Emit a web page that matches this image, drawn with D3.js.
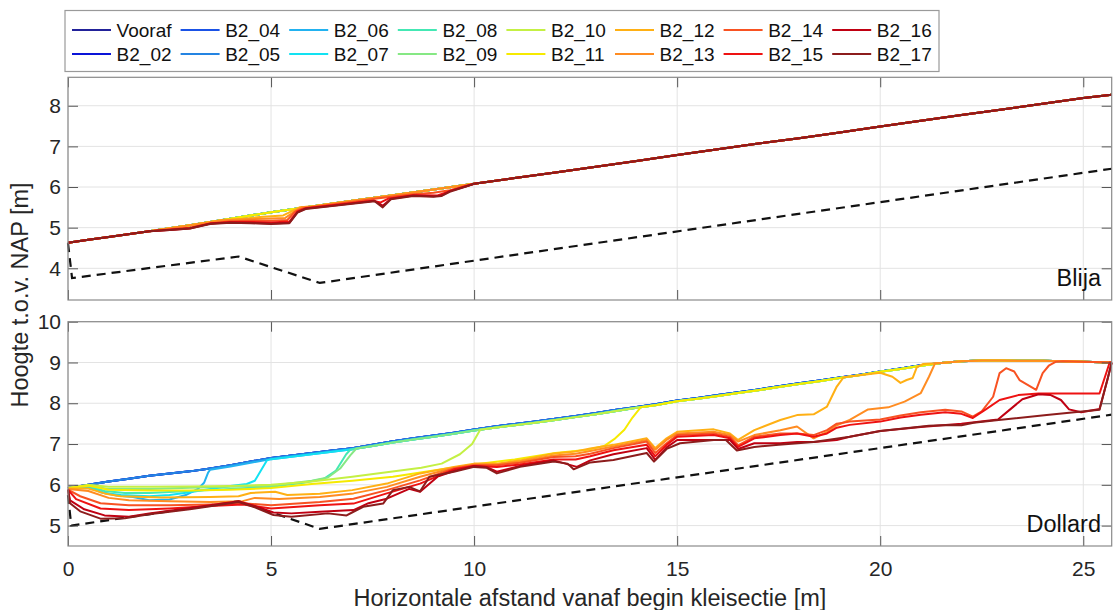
<!DOCTYPE html>
<html>
<head>
<meta charset="utf-8">
<script src="https://cdn.jsdelivr.net/npm/d3@7"></script>
<style>
  body { margin: 0; background: #fff; }
  svg { font-family: "Liberation Sans", Arial, Helvetica, sans-serif; }
</style>
</head>
<body>
<svg id="chart" width="1116" height="610"></svg>
<script>
// ---- data ----
const seriesNames = ["Vooraf", "B2_02", "B2_04", "B2_05", "B2_06", "B2_07", "B2_08", "B2_09",
  "B2_10", "B2_11", "B2_12", "B2_13", "B2_14", "B2_15", "B2_16", "B2_17"];
const seriesColors = ["#22229a", "#0a14d8", "#1a52e6", "#2484e2", "#22b2f0", "#12e2f2", "#44e8b4", "#86e884",
  "#c4f044", "#f6ea00", "#ffb014", "#ff8c22", "#f85222", "#ee1212", "#c00012", "#8c1c1c"];

const xTicks = [0, 5, 10, 15, 20, 25];
const blijaTicks = [4, 5, 6, 7, 8];
const dollardTicks = [5, 6, 7, 8, 9, 10];

// Blija: measured surface, all series coincide except where noted
const blijaBase = [[0,4.63],[0.5,4.7],[1,4.77],[2,4.91],[3,5.06],[4,5.22],[5,5.38],[6,5.52],[7,5.66],[8,5.8],
  [9,5.94],[10,6.08],[11,6.22],[12,6.36],[13,6.5],[14,6.64],[15,6.79],[16,6.93],[17,7.07],[18,7.2],[19,7.34],
  [20,7.49],[21,7.63],[22,7.77],[23,7.91],[24,8.05],[25,8.19],[25.7,8.27]];
const blijaB2_12 = [[3.8,5.19],[4.3,5.22],[4.8,5.27],[5.3,5.3],[5.5,5.4],[5.7,5.5]];
const blijaB2_13 = [[3.8,5.18],[4.3,5.2],[4.8,5.22],[5.35,5.24],[5.55,5.38],[5.75,5.5]];
const blijaB2_14 = [[2.5,4.96],[3,5],[3.5,5.1],[4,5.16],[4.5,5.17],[5,5.17],[5.4,5.19],[5.6,5.4],[5.8,5.48],
  [7,5.63],[7.6,5.72],[8.5,5.82],[9,5.86],[9.4,5.92],[9.8,6.03]];
const blijaB2_15 = [[2.5,4.95],[3,4.99],[3.5,5.1],[4,5.14],[4.5,5.14],[5,5.13],[5.45,5.15],[5.65,5.4],[5.85,5.48],
  [6.5,5.55],[7.5,5.66],[7.7,5.62],[7.9,5.72],[8.5,5.8],[8.8,5.8],[9.1,5.79],[9.4,5.9],[9.8,6.02]];
const blijaB2_16 = [[2.5,4.94],[3,4.98],[3.5,5.1],[4,5.13],[4.5,5.12],[5,5.1],[5.45,5.12],[5.65,5.38],[5.85,5.47],
  [6.5,5.54],[7.55,5.66],[7.75,5.54],[7.95,5.71],[8.5,5.79],[9,5.77],[9.2,5.79],[9.4,5.9],[9.8,6.02]];
const blijaB2_17 = [[2.5,4.94],[3,4.98],[3.5,5.09],[4,5.12],[4.5,5.11],[5,5.09],[5.45,5.11],[5.65,5.37],[5.85,5.46],
  [6.5,5.53],[7.55,5.65],[7.75,5.5],[7.95,5.7],[8.5,5.78],[9,5.76],[9.2,5.78],[9.4,5.88],[9.8,6.01]];
const blijaClay = [[0,4.62],[0.1,3.76],[4.2,4.29],[6.2,3.64],[25.7,6.45]];

// Dollard: initial surface
const dollardBase = [[0,5.92],[0.5,6],[1,6.08],[1.5,6.15],[2,6.22],[2.5,6.28],[3,6.33],[3.5,6.4],[4,6.48],[4.5,6.57],
  [5,6.66],[5.5,6.72],[6,6.78],[6.5,6.84],[7,6.9],[7.5,6.98],[8,7.07],[8.5,7.14],[9,7.21],[9.5,7.28],[10,7.36],
  [10.5,7.43],[11,7.49],[11.5,7.55],[12,7.62],[12.5,7.69],[13,7.76],[13.5,7.84],[14,7.91],[14.5,7.98],[15,8.07],
  [15.5,8.13],[16,8.2],[16.5,8.27],[17,8.34],[17.5,8.42],[18,8.49],[18.5,8.56],[19,8.63],[19.5,8.7],[20,8.78],
  [20.5,8.85],[21,8.93],[21.5,8.99],[22,9.03],[22.5,9.05],[23,9.05],[23.5,9.04],[24,9.04],[24.5,9.03],[25,9.02],[25.7,9]];
// surface seen just under the blue line, where later profiles rejoin the intact slope
const dollardRejoin = [[3.5,6.37],[4,6.45],[4.5,6.54],[5,6.63],[5.5,6.69],[6,6.75],[6.5,6.81],[7,6.87],[7.5,6.95],
  [8,7.04],[8.5,7.11],[9,7.18],[9.5,7.25],[10,7.33],[10.5,7.4],[11,7.46],[11.5,7.52],[12,7.59],[12.5,7.66],[13,7.73],
  [13.5,7.81],[14,7.89],[14.5,7.96],[15,8.05],[15.5,8.11],[16,8.18],[16.5,8.25],[17,8.32],[17.5,8.4],[18,8.47],
  [18.5,8.54],[19,8.62],[19.5,8.69],[20,8.77],[20.5,8.84],[21,8.92],[21.5,8.99],[22,9.03],[22.5,9.05],[23,9.05],
  [23.5,9.04],[24,9.04],[24.5,9.03],[25,9.02],[25.7,9]];
const dollardB2_06 = [[0,5.9],[0.5,5.95],[0.8,5.82],[1.2,5.74],[1.6,5.7],[2,5.62],[2.5,5.64],[2.9,5.75],[3.2,5.9],
  [3.35,6.05],[3.45,6.3]];
const dollardB2_07 = [[0,5.9],[0.5,5.96],[0.9,5.8],[1.3,5.75],[2,5.72],[2.5,5.75],[3,5.82],[3.5,5.9],[4,5.97],
  [4.4,6.02],[4.6,6.1],[4.75,6.35],[4.9,6.6]];
const dollardB2_08 = [[0,5.9],[0.5,5.97],[0.9,5.85],[1.4,5.8],[2,5.8],[3,5.85],[4,5.9],[5,5.95],[5.8,6.05],
  [6.3,6.15],[6.6,6.35],[6.85,6.75],[6.95,6.86]];
const dollardB2_09 = [[0,5.92],[0.5,5.98],[1,5.9],[2,5.9],[3,5.93],[4,5.95],[5,5.98],[6,6.1],[6.4,6.18],
  [6.7,6.4],[6.95,6.72],[7.1,6.89]];
const dollardB2_10 = [[0,5.92],[0.5,6],[1,5.95],[2,5.95],[3,5.96],[4,5.97],[5,6],[6,6.08],[7,6.2],[7.8,6.3],
  [8.7,6.42],[9.2,6.52],[9.65,6.75],[9.95,7],[10.15,7.35]];
const dollardB2_11 = [[0,5.92],[0.5,5.98],[1,5.88],[2,5.86],[3,5.86],[4,5.88],[5,5.92],[6,6.02],[7,6.1],[8,6.2],
  [9,6.35],[10,6.5],[11,6.62],[12,6.78],[12.8,6.86],[13.2,6.95],[13.45,7.12],[13.7,7.35],[13.9,7.65],[14.1,7.9]];
const dollardB2_12 = [[0,5.91],[0.5,5.91],[0.9,5.79],[1.3,5.72],[2.3,5.69],[3.5,5.7],[4.2,5.72],[4.5,5.8],[5.1,5.83],
  [5.4,5.75],[6.2,5.78],[7,5.87],[7.85,6.03],[8.67,6.28],[9.5,6.44],[10,6.52],[10.56,6.52],[11.13,6.6],[11.96,6.77],
  [12.5,6.82],[12.86,6.89],[13.43,6.98],[14.25,7.14],[14.46,6.9],[14.74,7.14],[15,7.3],[15.9,7.36],[16.3,7.26],
  [16.5,7.1],[16.9,7.34],[17.54,7.59],[17.95,7.71],[18.36,7.73],[18.69,7.92],[18.93,8.41],[19.1,8.64],[19.6,8.7],
  [20,8.75],[20.3,8.65],[20.5,8.5],[20.65,8.57],[20.8,8.62],[20.9,8.88],[21.05,8.96]];
const dollardB2_13 = [[0,5.9],[0.5,5.85],[1,5.68],[1.5,5.62],[2.5,5.6],[3.5,5.58],[4.3,5.6],[4.6,5.68],[5.2,5.65],
  [6.2,5.7],[7.03,5.79],[7.85,5.95],[8.67,6.2],[9.5,6.42],[10,6.5],[10.56,6.5],[11.13,6.57],[11.96,6.72],[12.5,6.76],
  [12.86,6.83],[13.43,6.94],[14.25,7.1],[14.46,6.86],[14.74,7.1],[15,7.26],[15.9,7.3],[16.3,7.22],[16.5,7.06],
  [16.9,7.22],[17.54,7.34],[17.95,7.43],[18.36,7.14],[18.69,7.3],[18.93,7.46],[19.25,7.59],[19.7,7.85],[20.2,7.9],
  [20.6,8.04],[21,8.25],[21.2,8.65],[21.35,8.98]];
const dollardB2_14 = [[0,5.88],[0.3,5.72],[0.8,5.55],[1.5,5.5],[2.5,5.5],[3.5,5.52],[4.3,5.55],[5,5.5],[6.2,5.58],
  [7.03,5.66],[7.85,5.87],[8.67,6.11],[9.5,6.4],[10,6.48],[10.56,6.48],[11.13,6.54],[11.96,6.68],[12.5,6.7],
  [12.86,6.76],[13.43,6.9],[14.25,7.06],[14.46,6.78],[14.74,7.02],[15,7.22],[15.9,7.26],[16.3,7.18],[16.5,6.97],
  [16.9,7.18],[17.54,7.26],[17.95,7.26],[18.36,7.22],[18.69,7.34],[18.93,7.5],[19.25,7.55],[20,7.6],[20.5,7.7],
  [21,7.78],[21.6,7.84],[22,7.8],[22.28,7.67],[22.5,7.8],[22.78,8.16],[22.94,8.74],[23.1,8.86],[23.3,8.78],
  [23.43,8.57],[23.84,8.33],[24,8.74],[24.15,8.92],[24.33,9.02]];
const dollardB2_15 = [[0,5.88],[0.2,5.65],[0.8,5.42],[1.5,5.38],[2.5,5.42],[3.5,5.48],[4.3,5.52],[5,5.42],[6.2,5.5],
  [7.03,5.54],[7.85,5.79],[8.67,6.03],[9.5,6.38],[10,6.46],[10.56,6.44],[11.13,6.5],[11.96,6.62],[12.5,6.62],
  [12.86,6.7],[13.43,6.85],[14.25,6.98],[14.46,6.7],[14.74,6.98],[15,7.18],[15.9,7.22],[16.3,7.14],[16.5,6.93],
  [16.9,7.14],[17.54,7.22],[17.95,7.26],[18.36,7.18],[18.69,7.26],[18.93,7.4],[19.25,7.47],[20,7.55],[20.5,7.65],
  [21,7.72],[21.6,7.78],[22,7.74],[22.28,7.64],[22.6,7.85],[22.94,8.08],[23.4,8.2],[23.9,8.24],[25.4,8.24],
  [25.65,9],[25.7,9]];
const dollardB2_16 = [[0,5.88],[0.05,5.62],[0.4,5.4],[0.9,5.25],[1.5,5.22],[2,5.3],[3,5.43],[4.2,5.6],[4.6,5.48],
  [5.06,5.32],[5.5,5.3],[6.2,5.34],[7.03,5.38],[7.4,5.55],[7.85,5.66],[8.4,5.9],[8.67,5.83],[9.1,6.2],[9.5,6.34],
  [10,6.46],[10.3,6.44],[10.56,6.32],[11.13,6.46],[11.96,6.6],[12.53,6.44],[12.86,6.6],[13.43,6.75],[14.25,6.9],
  [14.46,6.61],[14.74,6.92],[15,7.1],[15.9,7.1],[16.3,7.1],[16.5,6.88],[16.9,7.02],[17.54,7.02],[17.95,7.05],
  [18.36,7.05],[18.93,7.1],[19.25,7.18],[20,7.32],[21,7.42],[22,7.5],[22.9,7.6],[23.2,7.85],[23.5,8.1],[23.9,8.22],
  [24.2,8.2],[24.45,8.08],[24.65,7.85],[24.95,7.78],[25.4,7.86],[25.6,8.6],[25.7,9]];
const dollardB2_17 = [[0,5.88],[0.05,5.55],[0.3,5.35],[0.8,5.17],[1.4,5.18],[2,5.28],[3,5.4],[4.2,5.58],[4.6,5.45],
  [5.06,5.26],[5.5,5.22],[6.4,5.3],[6.86,5.25],[7.03,5.34],[7.27,5.46],[7.76,5.54],[8,5.87],[8.4,5.95],[8.67,5.84],
  [8.9,6.2],[9.5,6.32],[10,6.44],[10.3,6.42],[10.56,6.28],[11.13,6.44],[11.96,6.57],[12.3,6.52],[12.45,6.38],
  [12.86,6.55],[13.43,6.61],[14.25,6.78],[14.43,6.57],[14.74,6.88],[15.07,7.02],[15.9,7.1],[16.2,7.1],[16.47,6.84],
  [16.9,6.93],[17.5,6.98],[18.36,7.05],[19.25,7.18],[20,7.32],[21.2,7.45],[21.7,7.47],[22,7.46],[22.3,7.52],
  [22.8,7.58],[24.1,7.71],[25.4,7.84],[25.6,8.6],[25.7,9]];
const dollardClay = [[0,5.75],[0.08,5],[4.2,5.6],[6.2,4.92],[25.7,7.72]];

// a measured eroded stretch, followed by the surface it rejoins
function withBase(base, pts) {
  const x0 = pts[0][0], x1 = pts[pts.length - 1][0];
  return base.filter(d => d[0] < x0).concat(pts, base.filter(d => d[0] > x1));
}

const blijaSeries = [blijaBase, blijaBase, blijaBase, blijaBase, blijaBase, blijaBase, blijaBase, blijaBase,
  blijaBase, blijaBase, withBase(blijaBase, blijaB2_12), withBase(blijaBase, blijaB2_13),
  withBase(blijaBase, blijaB2_14), withBase(blijaBase, blijaB2_15), withBase(blijaBase, blijaB2_16),
  withBase(blijaBase, blijaB2_17)];
const dollardSeries = [dollardBase, dollardBase, dollardBase, dollardBase,
  withBase(dollardRejoin, dollardB2_06), withBase(dollardRejoin, dollardB2_07), withBase(dollardRejoin, dollardB2_08),
  withBase(dollardRejoin, dollardB2_09), withBase(dollardRejoin, dollardB2_10), withBase(dollardRejoin, dollardB2_11),
  withBase(dollardRejoin, dollardB2_12), withBase(dollardRejoin, dollardB2_13), withBase(dollardRejoin, dollardB2_14),
  dollardB2_15, dollardB2_16, dollardB2_17];

// ---- layout ----
const svg = d3.select("#chart");
const left = 68, right = 1111.7;

const x = d3.scaleLinear().domain([0, 25.7]).range([left, right]);

function drawPanel(top, bottom, yDomain, yTicks, series, clay, name, showXLabels) {
  const y = d3.scaleLinear().domain(yDomain).range([bottom, top]);
  const g = svg.append("g");

  // grid
  g.selectAll(".gx").data(xTicks).enter().append("line")
    .attr("x1", d => x(d)).attr("x2", d => x(d))
    .attr("y1", top).attr("y2", bottom)
    .attr("stroke", "#e3e3e3").attr("stroke-width", 1);
  g.selectAll(".gy").data(yTicks).enter().append("line")
    .attr("x1", left).attr("x2", right)
    .attr("y1", d => y(d)).attr("y2", d => y(d))
    .attr("stroke", "#e3e3e3").attr("stroke-width", 1);

  const line = d3.line().x(d => x(d[0])).y(d => y(d[1]));

  g.append("path")
    .attr("d", line(clay))
    .attr("fill", "none")
    .attr("stroke", "#111")
    .attr("stroke-width", 2.2)
    .attr("stroke-dasharray", "9,6");

  g.selectAll(".series").data(series).enter().append("path")
    .attr("d", d => line(d))
    .attr("fill", "none")
    .attr("stroke", (d, i) => seriesColors[i])
    .attr("stroke-width", 2)
    .attr("stroke-linejoin", "round");

  // axes with inward ticks
  const ax = (gen, tx, ty) => {
    const a = g.append("g").attr("transform", "translate(" + tx + "," + ty + ")").call(gen);
    a.select(".domain").remove();
    a.selectAll(".tick line").attr("stroke", "#555");
    a.selectAll("text").attr("fill", "#262626").style("font-size", "21px")
      .style("font-family", '"Liberation Sans", Arial, sans-serif');
    return a;
  };
  const fmt = d3.format("d");
  const xb = ax(d3.axisBottom(x).tickValues(xTicks).tickSize(-10).tickPadding(15).tickFormat(fmt), 0, bottom);
  if (!showXLabels) xb.selectAll("text").remove();
  ax(d3.axisTop(x).tickValues(xTicks).tickSize(-10).tickFormat(""), 0, top);
  ax(d3.axisLeft(y).tickValues(yTicks).tickSize(-10).tickPadding(7).tickFormat(fmt), left, 0);
  ax(d3.axisRight(y).tickValues(yTicks).tickSize(-10).tickFormat(""), right, 0);

  g.append("rect")
    .attr("x", left).attr("y", top)
    .attr("width", right - left).attr("height", bottom - top)
    .attr("fill", "none").attr("stroke", "#8a8a8a").attr("stroke-width", 1.2);

  g.append("text")
    .attr("x", 1101).attr("y", bottom - 14.5)
    .attr("text-anchor", "end")
    .style("font-size", "23.5px")
    .attr("fill", "#111")
    .text(name);
}

drawPanel(77.3, 300, [3.22, 8.7], blijaTicks, blijaSeries, blijaClay, "Blija", false);
drawPanel(321.7, 546, [4.5, 10], dollardTicks, dollardSeries, dollardClay, "Dollard", true);

// axis titles
svg.append("text")
  .attr("transform", "translate(28,295) rotate(-90)")
  .attr("text-anchor", "middle")
  .style("font-size", "23.5px")
  .attr("fill", "#262626")
  .text("Hoogte t.o.v. NAP [m]");

svg.append("text")
  .attr("x", (left + right) / 2).attr("y", 606)
  .attr("text-anchor", "middle")
  .style("font-size", "23.5px")
  .attr("fill", "#262626")
  .text("Horizontale afstand vanaf begin kleisectie [m]");

// legend, two rows filled column by column
const legend = svg.append("g");
legend.append("rect")
  .attr("x", 65).attr("y", 10.5)
  .attr("width", 939 - 65).attr("height", 61)
  .attr("fill", "#fff").attr("stroke", "#9a9a9a").attr("stroke-width", 1.2);

const items = legend.selectAll(".item").data(seriesNames).enter().append("g")
  .attr("transform", (d, i) => {
    return "translate(" + (72 + Math.floor(i / 2) * 108.6) + "," + (30 + (i % 2) * 24) + ")";
  });
items.append("line")
  .attr("x1", 0).attr("x2", 39)
  .attr("y1", 0).attr("y2", 0)
  .attr("stroke", (d, i) => seriesColors[i])
  .attr("stroke-width", 2);
items.append("text")
  .attr("x", 44.6).attr("y", 7)
  .style("font-size", "19px")
  .attr("fill", "#111")
  .text(d => d);
</script>
</body>
</html>
